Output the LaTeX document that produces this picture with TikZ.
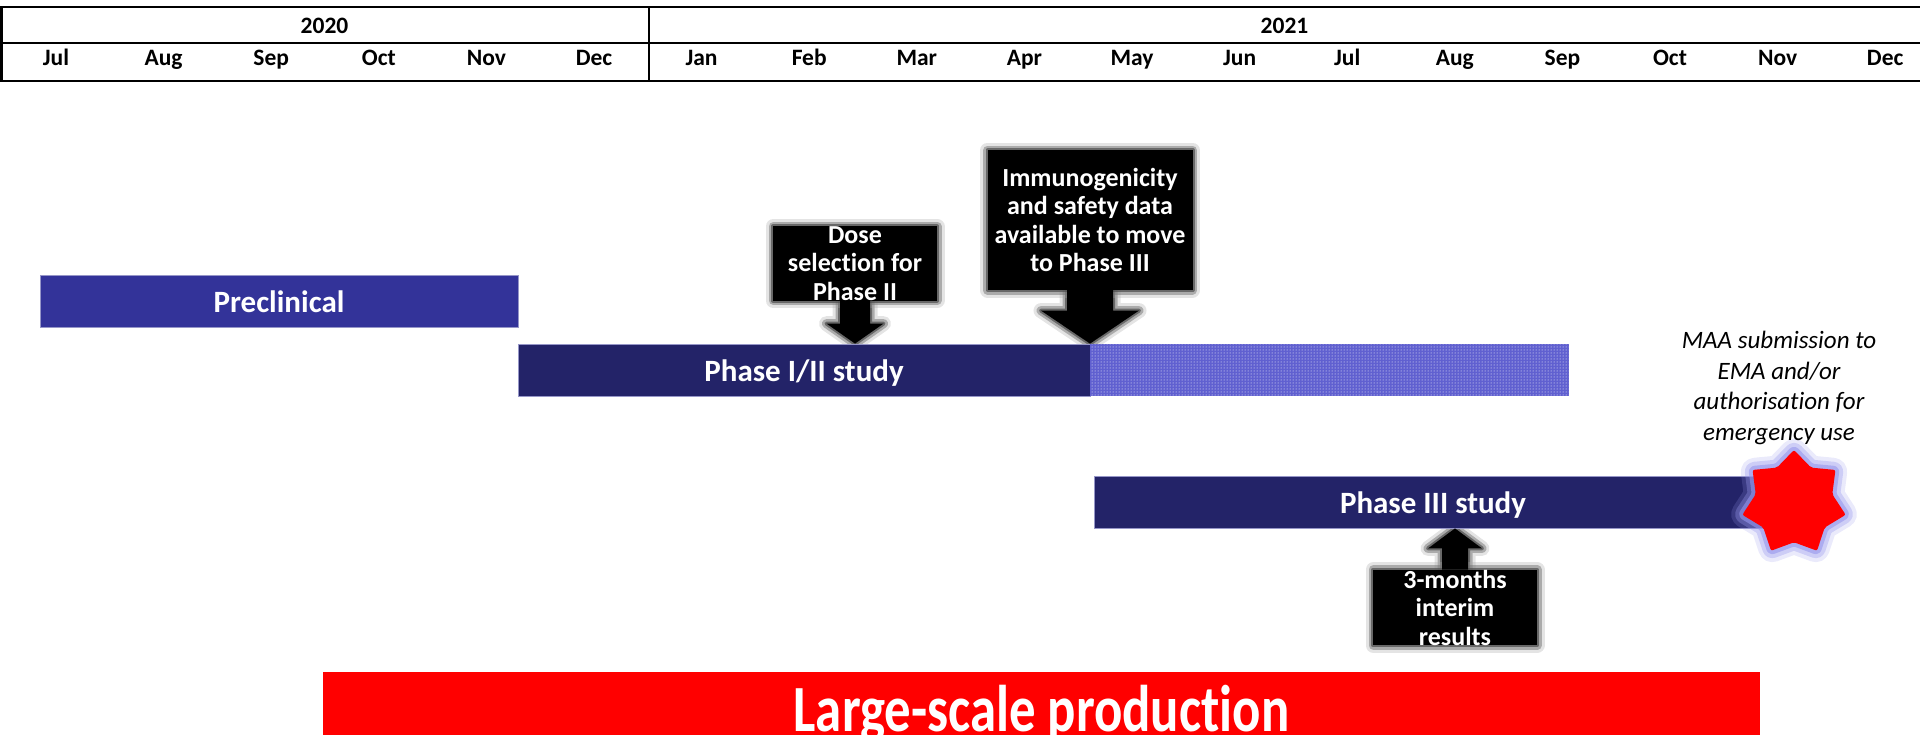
\documentclass[tikz,border=0pt]{standalone}
\usepackage{graphicx}
\usepackage{fontspec}
\setmainfont{Carlito}[Ligatures=NoCommon]
\usetikzlibrary{calc,patterns,shapes.geometric}

\definecolor{preblue}{RGB}{51,51,153}
\definecolor{navy}{RGB}{35,35,104}
\definecolor{hatchblue}{RGB}{96,96,208}
\definecolor{glowblue}{RGB}{150,150,236}
\definecolor{barline}{RGB}{150,150,200}

\pgfdeclarelayer{background}
\pgfsetlayers{background,main}

% outline of a fat arrow: start, tip, half shaft, half head, head length (sign = direction)
\newcommand\fatarrow[5]{let \p1=(#1), \p2=(#2) in
  (\x1-#3,\y1) -- (\x1-#3,\y2+#5) -- (\x1-#4,\y2+#5) -- (\x1,\y2)
  -- (\x1+#4,\y2+#5) -- (\x1+#3,\y2+#5) -- (\x1+#3,\y1) -- cycle}

\begin{document}
\begin{tikzpicture}[x=1pt, y=-1pt,
  every node/.style={inner sep=0pt},
  tableline/.style={line width=2.8pt},
  head/.style={font=\fontsize{23.5}{23.5}\selectfont\bfseries, anchor=base},
  bar/.style={minimum height=52, text=white, text height=22pt, text depth=0pt, draw=barline,
    line width=0.8pt, font=\fontsize{31}{31}\selectfont\bfseries},
  glow/.style={preaction={draw=black!35, line width=15pt, opacity=.3, line join=round},
    preaction={draw=black!55, line width=9pt, opacity=.5, line join=round},
    preaction={draw=black!70, line width=4pt, opacity=.7, line join=round}},
  callout/.style={glow, fill=black, text=white, align=center,
    font=\fontsize{26}{28.5}\selectfont\bfseries}]
  \useasboundingbox (0,0) rectangle (1920,734);
  % month grid
  \draw[tableline] (0,7) -- (1920,7) (0,43) -- (1920,43) (0,81) -- (1920,81);
  \draw[tableline] (1.4,7) -- (1.4,81) (649,7) -- (649,81);
  \node[head] (y2020) at (324.5,33) {2020};
  \node[head] (y2021) at (1284.5,33) {2021};
  \foreach \m [count=\i from 0] in {Jul,Aug,Sep,Oct,Nov,Dec,Jan,Feb,Mar,Apr,May,Jun,Jul,Aug,Sep,Oct,Nov,Dec}
    \node[head] (m\i) at (56+107.6*\i,65) {\m};
  % study bars
  \node[bar, fill=preblue, minimum width=478] (precl) at (279,301.5) {Preclinical};
  \node[bar, fill=navy, minimum width=572] (phaseI) at (804,370) {Phase I/II study};
  \node[bar, fill=hatchblue, draw=none, minimum width=479,
    postaction={pattern=dots, pattern color=white}] (phaseIext) at (1329.5,370) {};
  \node[bar, fill=navy, minimum width=678] (phaseIII) at (1433,502) {Phase III study};
  \node[bar, fill=red, draw=none, minimum width=1437, minimum height=72, text height=47pt,
    font=\fontsize{66}{66}\selectfont\bfseries] (prod) at (1041.5,708) {\scalebox{0.8}[1]{Large-scale production}};
  % submission
  \node[star, star points=7, star point ratio=1.35, minimum size=106, fill=red, rounded corners=2pt,
    preaction={draw=glowblue, line width=24pt, opacity=.2, line join=round},
    preaction={draw=glowblue, line width=16pt, opacity=.35, line join=round},
    preaction={draw=glowblue, line width=8pt, opacity=.6, line join=round}] (star) at (1794,503) {};
  \node[font=\fontsize{25}{30.5}\selectfont\itshape, align=center] (maa) at (1779,388)
    {MAA submission to\\EMA and/or\\authorisation for\\emergency use};
  % callouts
  \node[callout, minimum width=164, minimum height=73] (dose) at (855,263.5) {Dose\\selection for\\Phase II};
  \node[callout, minimum width=205, minimum height=140] (immuno) at (1090,220)
    {Immunogenicity\\and safety data\\available to move\\to Phase III};
  \node[callout, minimum width=164, minimum height=71] (interim) at (1455,607.5) {3-months\\interim\\results};
  \begin{pgfonlayer}{background}
    \path[glow] \fatarrow{dose.south}{dose.south |- phaseI.north}{15pt}{28.5pt}{20pt};
    \path[glow] \fatarrow{immuno.south}{immuno.south |- phaseI.north}{23pt}{49pt}{33pt};
    \path[glow] \fatarrow{interim.north}{interim.north |- phaseIII.south}{13pt}{27pt}{-20pt};
  \end{pgfonlayer}
  \fill \fatarrow{dose.south}{dose.south |- phaseI.north}{15pt}{28.5pt}{20pt};
  \fill \fatarrow{immuno.south}{immuno.south |- phaseI.north}{23pt}{49pt}{33pt};
  \fill \fatarrow{interim.north}{interim.north |- phaseIII.south}{13pt}{27pt}{-20pt};
\end{tikzpicture}
\end{document}
